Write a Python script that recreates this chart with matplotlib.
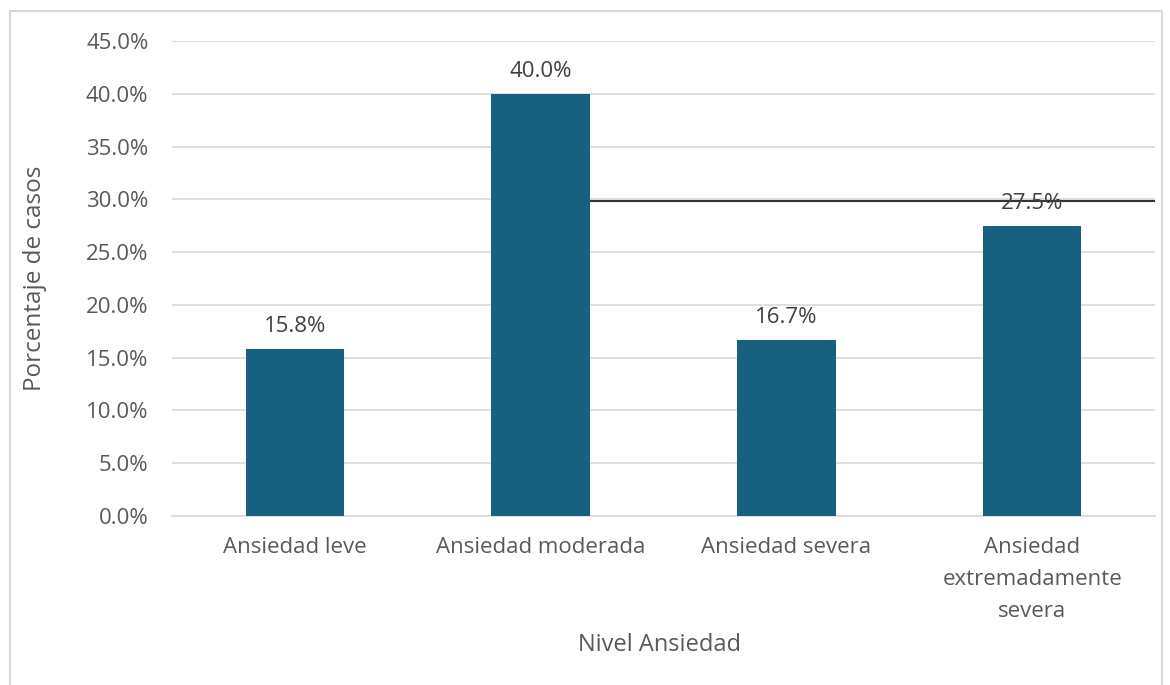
import matplotlib
matplotlib.use("Agg")
import matplotlib.pyplot as plt
from matplotlib.patches import Rectangle
from matplotlib.ticker import FuncFormatter

categories = ["Ansiedad leve", "Ansiedad moderada", "Ansiedad severa",
              "Ansiedad\nextremadamente\nsevera"]
values = [15.8, 40.0, 16.7, 27.5]
labels = ["15.8%", "40.0%", "16.7%", "27.5%"]
ref_line = 29.8

plt.rcParams['font.family'] = ['Open Sans', 'DejaVu Sans']

fig = plt.figure(figsize=(11.7, 6.85), dpi=100)
ax = fig.add_axes([172/1170, 1 - 516/685, (1155-172)/1170, (516-41)/685])

bar_color = "#17607f"
x = list(range(len(categories)))
ax.bar(x, values, width=0.4, color=bar_color, zorder=3)
for xi, v, lab in zip(x, values, labels):
    ax.annotate(lab, (xi, v), xytext=(0, 16), textcoords="offset points",
                ha="center", va="center", fontsize=16, color="#404040", zorder=5)

ax.hlines(ref_line, 1.2, 3.5, color="#333333", lw=1.5, zorder=4, clip_on=False)

ax.set_xlim(-0.5, 3.5)
ax.set_ylim(0, 45)
ax.set_yticks([i * 5 for i in range(10)])
ax.yaxis.set_major_formatter(FuncFormatter(lambda v, p: f"{v:.1f}%"))
ax.set_xticks(x)
ax.set_xticklabels(categories, linespacing=1.68)
ax.tick_params(axis="both", length=0, labelsize=16, colors="#595959")
ax.tick_params(axis="x", pad=15)
ax.tick_params(axis="y", pad=17)
ax.grid(axis="y", color="#d9d9d9", lw=1.2, zorder=0)
for s in ["top", "right", "left"]:
    ax.spines[s].set_visible(False)
ax.spines["bottom"].set_color("#d9d9d9")
ax.spines["bottom"].set_linewidth(1.2)

fig.text(35/1170, 1 - 278/685, "Porcentaje de casos", rotation=90, ha="center",
         va="center", fontsize=17.5, color="#595959")
fig.text(660/1170, 1 - 645/685, "Nivel Ansiedad", ha="center", va="center",
         fontsize=17, color="#595959")

fig.add_artist(Rectangle((10/1170, -0.01), (1162-10)/1170, 1 - 11/685 + 0.01,
                         transform=fig.transFigure, fill=False,
                         edgecolor="#d9d9d9", lw=1.5))

fig.savefig("out.png", dpi=100)
